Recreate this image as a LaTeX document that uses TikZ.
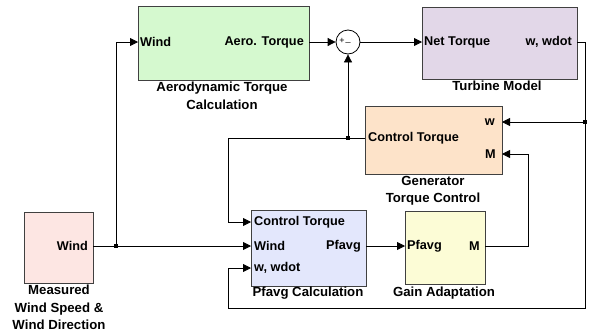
\documentclass[tikz,border=0pt]{standalone}
\usepackage{fontspec}
\setmainfont{Liberation Sans}
\usetikzlibrary{arrows.meta}
\definecolor{cgreen}{RGB}{213,249,207}
\definecolor{cpurple}{RGB}{226,215,232}
\definecolor{corange}{RGB}{253,227,201}
\definecolor{cblue}{RGB}{227,231,252}
\definecolor{cyellow}{RGB}{252,252,214}
\definecolor{cpink}{RGB}{253,230,227}
\begin{document}
\begin{tikzpicture}[x=1pt,y=-1pt,
  blk/.style={draw=black!75,line width=0.9pt,inner sep=0pt,anchor=north west},
  lbl/.style={font=\bfseries\fontsize{12.7}{14}\selectfont,inner sep=0pt},
  captxt/.style={font=\bfseries\fontsize{13.2}{17.5}\selectfont,inner sep=0pt,align=center,anchor=north},
  wire/.style={line width=0.8pt,-{Triangle[length=8pt,width=8pt]}},
  wireplain/.style={line width=0.8pt},
  bdot/.style={fill=black,inner sep=0pt,minimum size=3.2pt,rectangle}]
\useasboundingbox (0,0) rectangle (591,335);

% blocks
\node[blk,fill=cgreen,minimum width=171pt,minimum height=74pt] (aero) at (138,6) {};
\node[blk,fill=cpurple,minimum width=155pt,minimum height=72pt] (turb) at (422,7) {};
\node[blk,fill=corange,minimum width=137pt,minimum height=68pt] (gen) at (365,106) {};
\node[blk,fill=cblue,minimum width=115pt,minimum height=76pt] (pfa) at (251,210) {};
\node[blk,fill=cyellow,minimum width=80pt,minimum height=73pt] (gain) at (405,211) {};
\node[blk,fill=cpink,minimum width=69pt,minimum height=71pt] (meas) at (24,212) {};
\node[draw=black,line width=0.8pt,circle,minimum size=24pt,inner sep=0pt] (sum) at (348,42) {};
\node[font=\fontsize{9}{9}\selectfont,inner sep=0pt] (plus) at (342,41) {+};
\node[font=\fontsize{9}{9}\selectfont,inner sep=0pt] (minus) at (348,42) {\_};

% port labels
\node[lbl,anchor=west] (l1) at (140,42) {Wind};
\node[lbl,anchor=east] (l2) at (304,42) {Aero. Torque};
\node[lbl,anchor=west] (l3) at (424,42) {Net Torque};
\node[lbl,anchor=east] (l4) at (572,42) {w, wdot};
\node[lbl,anchor=east] (l5) at (495,122) {w};
\node[lbl,anchor=west] (l6) at (368,138) {Control Torque};
\node[lbl,anchor=east] (l7) at (496,154) {M};
\node[lbl,anchor=west] (l8) at (254,222) {Control Torque};
\node[lbl,anchor=west] (l9) at (254,246) {Wind};
\node[lbl,anchor=west] (l10) at (254,268) {w, wdot};
\node[lbl,anchor=east] (l11) at (361,246) {Pfavg};
\node[lbl,anchor=west] (l12) at (407,246) {Pfavg};
\node[lbl,anchor=east] (l13) at (480,246) {M};
\node[lbl,anchor=east] (l14) at (88,246) {Wind};

% captions
\node[captxt] (c1) at (222,82) {Aerodynamic Torque\\Calculation};
\node[captxt] (c2) at (497,81) {Turbine Model};
\node[captxt] (c3) at (433,176) {Generator\\Torque Control};
\node[captxt] (c4) at (308,287) {Pfavg Calculation};
\node[captxt] (c5) at (444,287) {Gain Adaptation};
\node[captxt] (c6) at (59,285) {Measured\\Wind Speed \&\\Wind Direction};

% port coordinates
\coordinate (mw) at (93,246);
\coordinate (pw) at (251,246);
\coordinate (b1) at (116,246);
\coordinate (aw) at (138,42);
\coordinate (atq) at (309,42);
\coordinate (tn) at (422,42);
\coordinate (tw) at (577,42);
\coordinate (cr) at (585,308);
\coordinate (cl) at (228,308);
\coordinate (pww) at (251,268);
\coordinate (b2) at (585,122);
\coordinate (gw) at (502,122);
\coordinate (gct) at (365,138);
\coordinate (b3) at (348,138);
\coordinate (cl2) at (228,138);
\coordinate (pct) at (251,222);
\coordinate (gm) at (485,246);
\coordinate (k) at (528,154);
\coordinate (genm) at (502,154);
\coordinate (po) at (366,246);
\coordinate (gi) at (405,246);

% connectors
\draw[wire] (mw) -- (pw);
\draw[wire] (b1) |- (aw);
\draw[wire] (atq) -- (sum.west);
\draw[wire] (sum.east) -- (tn);
\draw[wire] (tw) -| (cr) -- (cl) |- (pww);
\draw[wire] (b2) -- (gw);
\draw[wireplain] (gct) -- (cl2);
\draw[wire] (cl2) |- (pct);
\draw[wire] (b3) -- (sum.south);
\draw[wire] (gm) -| (k) -- (genm);
\draw[wire] (po) -- (gi);

\node[bdot] (d1) at (b1) {};
\node[bdot] (d2) at (b2) {};
\node[bdot] (d3) at (b3) {};
\end{tikzpicture}
\end{document}
